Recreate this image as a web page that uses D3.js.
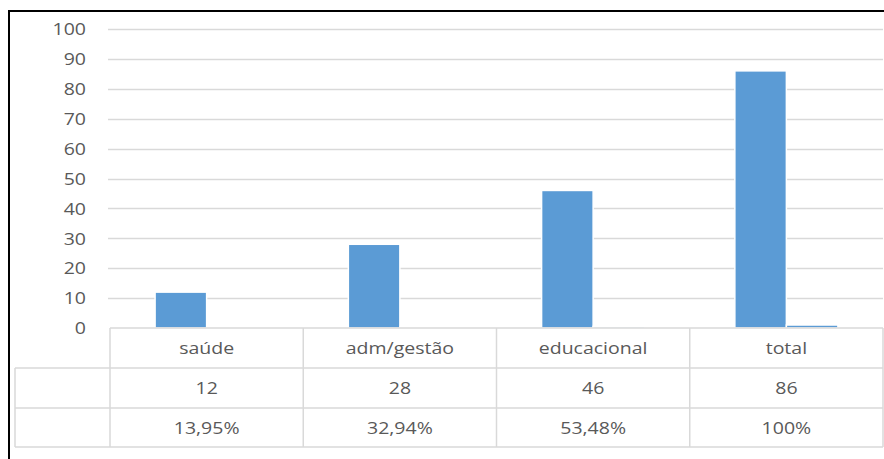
<!DOCTYPE html>
<html><head><meta charset="utf-8">
<script src="https://cdn.jsdelivr.net/npm/d3@7"></script>
<style>html,body{margin:0;padding:0;background:#fff;}svg{display:block;}</style>
</head><body>
<svg id="c" width="884" height="459"></svg>
<script>
const categories = ["saúde", "adm/gestão", "educacional", "total"];
const counts = [12, 28, 46, 86];
const shares = [0.1395, 0.3294, 0.5348, 1.0];
const shareLabels = ["13,95%", "32,94%", "53,48%", "100%"];
const yTicks = [0, 10, 20, 30, 40, 50, 60, 70, 80, 90, 100];

(function () {
const svg = d3.select("#c");
const W = 884, H = 459;
const pLeft = 110, pRight = 883, pTop = 29, pBase = 328;
const rowY = [328, 368, 408, 447];
const tableLeft = 15;
const grid = "#d9d9d9", txt = "#595959";
const FONT = "'Open Sans', Lato, sans-serif";

svg.append("path").attr("d", `M9,${H} L9,11 L${W},11`)
  .attr("fill", "none").attr("stroke", "#000").attr("stroke-width", 2);

const y = d3.scaleLinear().domain([0, 100]).range([pBase, pTop]);
const x0 = d3.scaleBand().domain(categories).range([pLeft, pRight]).padding(0);
const x1 = d3.scaleBand().domain(["n", "pct"]).range([0, x0.bandwidth()]).paddingInner(0).paddingOuter(0.875);

svg.append("g").selectAll("line").data(yTicks.filter(d => d > 0)).join("line")
  .attr("x1", 108).attr("x2", pRight).attr("y1", d => Math.round(y(d)) + 0.5).attr("y2", d => Math.round(y(d)) + 0.5)
  .attr("stroke", grid).attr("stroke-width", 1.5);

function label(g, xx, yy, t, anchor) {
  g.append("text").attr("transform", `translate(${xx},${yy}) scale(1.22,1)`)
    .attr("text-anchor", anchor).attr("dominant-baseline", "central")
    .attr("font-family", FONT).attr("font-size", 16).attr("fill", txt).text(t);
}

const yg = svg.append("g");
yTicks.forEach(t => label(yg, 86, y(t), String(t), "end"));

const series = [{key: "n", vals: counts}, {key: "pct", vals: shares}];
const bg = svg.append("g");
series.forEach(s => {
  bg.selectAll(null).data(categories).join("rect")
    .attr("x", c => x0(c) + x1(s.key))
    .attr("width", x1.bandwidth())
    .attr("y", (c, i) => y(s.vals[i]))
    .attr("height", (c, i) => pBase - y(s.vals[i]))
    .attr("fill", "#5b9bd5").attr("stroke", "#fff").attr("stroke-width", 1.5);
});

const tg = svg.append("g").attr("stroke", grid).attr("stroke-width", 1.5).attr("fill", "none");
tg.append("line").attr("x1", pLeft).attr("x2", pRight).attr("y1", rowY[0]).attr("y2", rowY[0]);
[1, 2, 3].forEach(i => tg.append("line").attr("x1", tableLeft).attr("x2", pRight).attr("y1", rowY[i]).attr("y2", rowY[i]));
tg.append("line").attr("x1", tableLeft).attr("x2", tableLeft).attr("y1", rowY[1]).attr("y2", rowY[3]);
categories.forEach(c => tg.append("line").attr("x1", x0(c)).attr("x2", x0(c)).attr("y1", rowY[0]).attr("y2", rowY[3]));
tg.append("line").attr("x1", pRight).attr("x2", pRight).attr("y1", rowY[0]).attr("y2", rowY[3]);

const lg = svg.append("g");
categories.forEach((c, i) => {
  const cx = x0(c) + x0.bandwidth() / 2;
  label(lg, cx, (rowY[0] + rowY[1]) / 2, c, "middle");
  label(lg, cx, (rowY[1] + rowY[2]) / 2, String(counts[i]), "middle");
  label(lg, cx, (rowY[2] + rowY[3]) / 2, shareLabels[i], "middle");
});
})();
</script>
</body></html>
